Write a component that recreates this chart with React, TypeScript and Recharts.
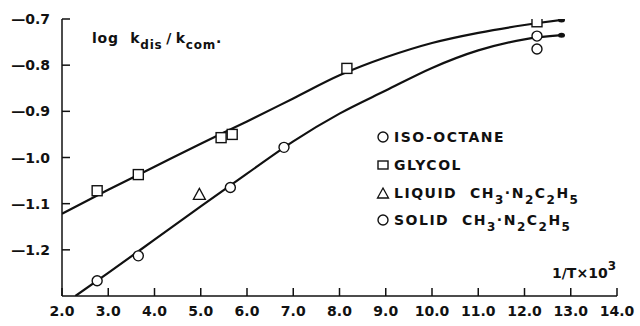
import React from 'react';
import { ComposedChart, Line, Scatter, XAxis, YAxis } from 'recharts';

// axis ticks
const xTicks = [2, 3, 4, 5, 6, 7, 8, 9, 10, 11, 12, 13, 14];
const yTicks = [-1.2, -1.1, -1.0, -0.9, -0.8, -0.7];

// measured points
const isoOctane = [
    { x: 2.76, y: -1.267 },
    { x: 3.65, y: -1.213 },
    { x: 5.64, y: -1.065 },
    { x: 6.8, y: -0.978 },
    { x: 12.27, y: -0.737 },
];
const glycol = [
    { x: 2.76, y: -1.072 },
    { x: 3.65, y: -1.037 },
    { x: 5.44, y: -0.957 },
    { x: 5.68, y: -0.95 },
    { x: 8.16, y: -0.807 },
    { x: 12.27, y: -0.706 },
];
const liquid = [{ x: 4.97, y: -1.08 }];
const solid = [{ x: 12.27, y: -0.765 }];

// drawn curves
const upperCurve = [
    { x: 2.0, y: -1.122 },
    { x: 3.0, y: -1.07 },
    { x: 4.0, y: -1.02 },
    { x: 5.0, y: -0.97 },
    { x: 6.0, y: -0.922 },
    { x: 7.0, y: -0.872 },
    { x: 8.0, y: -0.822 },
    { x: 9.0, y: -0.783 },
    { x: 10.0, y: -0.752 },
    { x: 11.0, y: -0.73 },
    { x: 12.0, y: -0.713 },
    { x: 12.8, y: -0.702 },
];
const lowerCurve = [
    { x: 2.29, y: -1.3 },
    { x: 3.0, y: -1.25 },
    { x: 4.0, y: -1.178 },
    { x: 5.0, y: -1.106 },
    { x: 6.0, y: -1.035 },
    { x: 7.0, y: -0.965 },
    { x: 8.0, y: -0.905 },
    { x: 9.0, y: -0.855 },
    { x: 10.0, y: -0.806 },
    { x: 11.0, y: -0.768 },
    { x: 12.0, y: -0.744 },
    { x: 12.8, y: -0.735 },
];

const FONT = '"DejaVu Sans", sans-serif';
const INK = '#111';

const Circle = (p: any) => <circle cx={p.cx} cy={p.cy} r={5} fill="#fff" stroke={INK} strokeWidth={1.4} />;
const Square = (p: any) => <rect x={p.cx - 5} y={p.cy - 5} width={10} height={10} fill="#fff" stroke={INK} strokeWidth={1.4} />;
const Triangle = (p: any) => (
    <path d={`M${p.cx},${p.cy - 6} L${p.cx + 6},${p.cy + 5} L${p.cx - 6},${p.cy + 5} Z`} fill="#fff" stroke={INK} strokeWidth={1.3} />
);

// small filled tip drawn at the last point of a curve
const endDot = (len: number) => (p: any) =>
    p.index === len - 1
        ? <ellipse key={p.index} cx={p.cx} cy={p.cy} rx={3.5} ry={2.5} fill={INK} />
        : <g key={p.index} />;

const XTick = ({ x, y, payload }: any) => (
    <g>
        <line x1={x} y1={y} x2={x} y2={y - 8} stroke={INK} strokeWidth={1.5} />
        <text x={x} y={y + 20} textAnchor="middle" fontFamily={FONT} fontWeight="bold" fontSize={14} fill={INK}>
            {payload.value.toFixed(1)}
        </text>
    </g>
);

const YTick = ({ x, y, payload }: any) => (
    <g>
        <line x1={x} y1={y} x2={x + 8} y2={y} stroke={INK} strokeWidth={1.5} />
        <text x={x - 12} y={y + 5} textAnchor="end" fontFamily={FONT} fontWeight="bold" fontSize={14} fill={INK}>
            {'\u2014' + Math.abs(payload.value).toFixed(1)}
        </text>
    </g>
);

const Sub = ({ children, size = 12 }: any) => (
    <span style={{ fontSize: size, position: 'relative', top: 6 }}>{children}</span>
);

const legendRow = (top: number, icon: React.ReactNode, label: React.ReactNode) => (
    <div style={{ position: 'absolute', left: 376, top, height: 16, display: 'flex', alignItems: 'center' }}>
        <svg width={14} height={14}>{icon}</svg>
        <span style={{ marginLeft: 4, letterSpacing: 1.5 }}>{label}</span>
    </div>
);

export default function App() {
    return (
        <div style={{ position: 'absolute', left: 0, top: 0, width: 640, height: 326, background: '#fff', fontFamily: FONT, fontWeight: 'bold', fontSize: 14, color: INK }}>
            <ComposedChart width={640} height={326} margin={{ top: 19, right: 23, bottom: 0, left: 12 }}>
                <XAxis
                    type="number"
                    dataKey="x"
                    domain={[2, 14]}
                    ticks={xTicks}
                    height={30}
                    tickSize={0}
                    tickMargin={0}
                    tickLine={false}
                    axisLine={{ stroke: INK, strokeWidth: 1.5 }}
                    tick={XTick}
                    allowDataOverflow
                />
                <YAxis
                    type="number"
                    dataKey="y"
                    domain={[-1.3, -0.7]}
                    ticks={yTicks}
                    width={50}
                    tickSize={0}
                    tickMargin={0}
                    tickLine={false}
                    axisLine={{ stroke: INK, strokeWidth: 1.5 }}
                    tick={YTick}
                    allowDataOverflow
                />
                <Line data={upperCurve} dataKey="y" type="monotone" stroke={INK} strokeWidth={2.2} dot={endDot(upperCurve.length)} activeDot={false} isAnimationActive={false} />
                <Line data={lowerCurve} dataKey="y" type="monotone" stroke={INK} strokeWidth={2.2} dot={endDot(lowerCurve.length)} activeDot={false} isAnimationActive={false} />
                <Scatter data={glycol} dataKey="y" shape={Square} isAnimationActive={false} />
                <Scatter data={isoOctane} dataKey="y" shape={Circle} isAnimationActive={false} />
                <Scatter data={solid} dataKey="y" shape={Circle} isAnimationActive={false} />
                <Scatter data={liquid} dataKey="y" shape={Triangle} isAnimationActive={false} />
            </ComposedChart>

            <div style={{ position: 'absolute', left: 92, top: 30, fontSize: 14, whiteSpace: 'nowrap', letterSpacing: 0.8 }}>
                log&nbsp; k<Sub>dis</Sub>&thinsp;/&thinsp;k<Sub>com</Sub>.
            </div>

            {legendRow(129, <circle cx={7} cy={7} r={5} fill="none" stroke={INK} strokeWidth={1.4} />, 'ISO-OCTANE')}
            {legendRow(157, <rect x={2} y={3} width={10} height={8} fill="none" stroke={INK} strokeWidth={1.4} />, 'GLYCOL')}
            {legendRow(185, <path d="M7,2 L12.5,12 L1.5,12 Z" fill="none" stroke={INK} strokeWidth={1.3} />, (
                <span>LIQUID&nbsp; CH<Sub>3</Sub>·N<Sub>2</Sub>C<Sub>2</Sub>H<Sub>5</Sub></span>
            ))}
            {legendRow(212, <circle cx={7} cy={7} r={5} fill="none" stroke={INK} strokeWidth={1.4} />, (
                <span>SOLID&nbsp; CH<Sub>3</Sub>·N<Sub>2</Sub>C<Sub>2</Sub>H<Sub>5</Sub></span>
            ))}

            <div style={{ position: 'absolute', left: 552, top: 265, fontSize: 14, whiteSpace: 'nowrap' }}>
                1/T×10<span style={{ fontSize: 12, position: 'relative', top: -8 }}>3</span>
            </div>
        </div>
    );
}
